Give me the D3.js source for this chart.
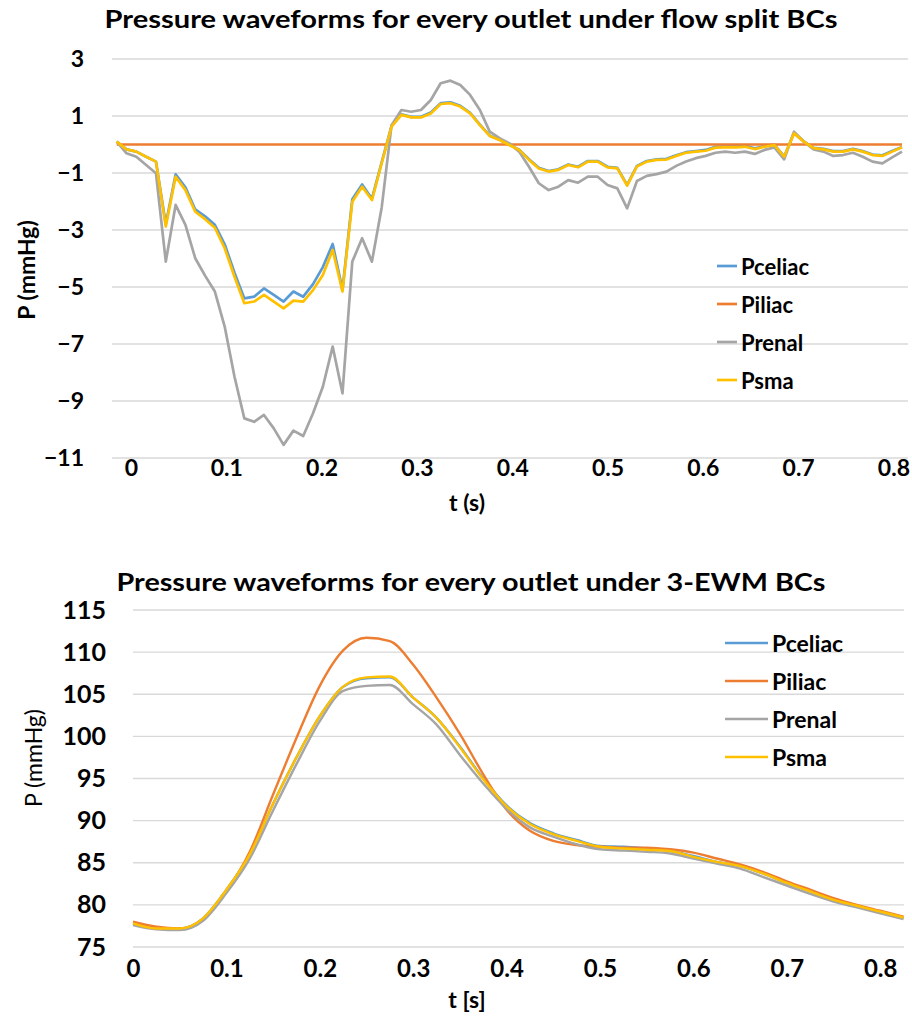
<!DOCTYPE html>
<html>
<head>
<meta charset="utf-8">
<script src="https://cdn.jsdelivr.net/npm/d3@7"></script>
<style>
  html, body { margin: 0; padding: 0; background: #fff; }
  svg { display: block; }
  text { font-family: Lato, "Open Sans", sans-serif; fill: #000; }
</style>
</head>
<body>
<svg id="chart" width="912" height="1021"></svg>
<script>
// ---------- Series names and colours ----------
const seriesNames = ["Pceliac", "Piliac", "Prenal", "Psma"];
const seriesColors = ["#5B9BD5", "#ED7D31", "#A5A5A5", "#FFC000"];

// ---------- Flow split BCs: outlet pressure (mmHg) vs time (s) ----------
const splitTime = [
  -0.0150, -0.0047, 0.0056, 0.0159, 0.0262, 0.0365, 0.0468, 0.0571, 0.0674, 0.0777,
  0.0880, 0.0983, 0.1086, 0.1189, 0.1292, 0.1395, 0.1498, 0.1601, 0.1704, 0.1807,
  0.1910, 0.2013, 0.2116, 0.2219, 0.2322, 0.2425, 0.2528, 0.2631, 0.2734, 0.2837,
  0.2940, 0.3043, 0.3146, 0.3249, 0.3352, 0.3455, 0.3558, 0.3661, 0.3764, 0.3867,
  0.3970, 0.4073, 0.4176, 0.4279, 0.4382, 0.4485, 0.4588, 0.4691, 0.4794, 0.4897,
  0.5000, 0.5103, 0.5206, 0.5309, 0.5412, 0.5515, 0.5618, 0.5721, 0.5824, 0.5927,
  0.6030, 0.6133, 0.6236, 0.6339, 0.6442, 0.6545, 0.6648, 0.6751, 0.6854, 0.6957,
  0.7060, 0.7163, 0.7266, 0.7369, 0.7472, 0.7575, 0.7678, 0.7781, 0.7884, 0.7987,
  0.8090
];
const splitCeliac = [
  0.10, -0.17, -0.25, -0.43, -0.60, -2.80, -1.05, -1.50, -2.28, -2.52,
  -2.82, -3.50, -4.50, -5.40, -5.34, -5.05, -5.28, -5.51, -5.16, -5.34,
  -4.90, -4.30, -3.49, -5.10, -1.92, -1.40, -1.90, -0.62, 0.65, 1.06,
  0.97, 0.97, 1.12, 1.45, 1.48, 1.36, 1.11, 0.70, 0.31, 0.17,
  -0.01, -0.18, -0.52, -0.82, -0.93, -0.87, -0.70, -0.78, -0.58, -0.58,
  -0.78, -0.82, -1.42, -0.75, -0.58, -0.52, -0.50, -0.38, -0.27, -0.23,
  -0.19, -0.08, -0.07, -0.07, -0.05, -0.13, -0.06, -0.01, -0.42, 0.40,
  0.11, -0.12, -0.15, -0.23, -0.23, -0.15, -0.23, -0.35, -0.38, -0.23,
  -0.09
];
const splitIliac = [
  0, 0, 0, 0, 0, 0, 0, 0, 0, 0,
  0, 0, 0, 0, 0, 0, 0, 0, 0, 0,
  0, 0, 0, 0, 0, 0, 0, 0, 0, 0,
  0, 0, 0, 0, 0, 0, 0, 0, 0, 0,
  0, 0, 0, 0, 0, 0, 0, 0, 0, 0,
  0, 0, 0, 0, 0, 0, 0, 0, 0, 0,
  0, 0, 0, 0, 0, 0, 0, 0, 0, 0,
  0, 0, 0, 0, 0, 0, 0, 0, 0, 0,
  0
];
const splitRenal = [
  0.10, -0.31, -0.43, -0.72, -1.01, -4.11, -2.12, -2.82, -3.99, -4.60,
  -5.16, -6.39, -8.15, -9.61, -9.73, -9.49, -9.96, -10.54, -10.04, -10.23,
  -9.43, -8.50, -7.09, -8.73, -4.11, -3.29, -4.11, -2.20, 0.68, 1.21,
  1.15, 1.21, 1.56, 2.15, 2.24, 2.09, 1.74, 1.21, 0.45, 0.22,
  0.04, -0.25, -0.78, -1.36, -1.60, -1.48, -1.25, -1.34, -1.13, -1.13,
  -1.42, -1.54, -2.24, -1.28, -1.10, -1.04, -0.95, -0.75, -0.60, -0.48,
  -0.40, -0.29, -0.25, -0.29, -0.25, -0.33, -0.19, -0.10, -0.52, 0.45,
  0.10, -0.17, -0.25, -0.40, -0.37, -0.29, -0.43, -0.60, -0.66, -0.45,
  -0.25
];
const splitSma = [
  0.10, -0.17, -0.25, -0.43, -0.60, -2.88, -1.13, -1.60, -2.36, -2.62,
  -2.92, -3.64, -4.64, -5.57, -5.51, -5.28, -5.51, -5.75, -5.48, -5.51,
  -5.11, -4.58, -3.70, -5.16, -2.01, -1.48, -1.95, -0.65, 0.63, 1.04,
  0.95, 0.95, 1.09, 1.42, 1.45, 1.33, 1.09, 0.68, 0.30, 0.16,
  -0.02, -0.19, -0.54, -0.84, -0.95, -0.89, -0.72, -0.80, -0.60, -0.60,
  -0.80, -0.84, -1.44, -0.77, -0.60, -0.54, -0.53, -0.40, -0.29, -0.25,
  -0.22, -0.11, -0.10, -0.10, -0.08, -0.16, -0.08, -0.02, -0.43, 0.39,
  0.10, -0.13, -0.17, -0.25, -0.25, -0.17, -0.25, -0.37, -0.40, -0.25,
  -0.10
];
const splitYTicks = [3, 1, -1, -3, -5, -7, -9, -11];
const splitXTicks = [0, 0.1, 0.2, 0.3, 0.4, 0.5, 0.6, 0.7, 0.8];

// ---------- 3-EWM BCs: outlet pressure (mmHg) vs time (s) ----------
const ewmTime = [
  0, 0.025, 0.05, 0.075, 0.1, 0.125, 0.15, 0.175, 0.2, 0.225,
  0.25, 0.275, 0.3, 0.325, 0.35, 0.375, 0.4, 0.425, 0.45, 0.475,
  0.5, 0.525, 0.55, 0.575, 0.6, 0.625, 0.65, 0.675, 0.7, 0.725,
  0.75, 0.775, 0.8, 0.825
];
const ewmCeliac = [
  77.8, 77.2, 77.2, 78.4, 81.8, 86.0, 92.0, 97.5, 102.4, 105.9,
  106.9, 107.0, 104.6, 102.2, 98.8, 95.0, 91.8, 89.7, 88.5, 87.7,
  87.0, 86.9, 86.7, 86.4, 85.8, 85.1, 84.6, 83.7, 82.6, 81.6,
  80.6, 79.9, 79.2, 78.5
];
const ewmIliac = [
  78.0, 77.4, 77.2, 78.3, 81.6, 86.3, 93.1, 99.8, 106.0, 110.2,
  111.7, 111.3, 108.5, 104.6, 100.3, 95.5, 91.3, 88.8, 87.6, 87.1,
  86.9, 86.8, 86.8, 86.6, 86.2, 85.5, 84.8, 83.9, 82.8, 81.8,
  80.8, 80.0, 79.3, 78.6
];
const ewmRenal = [
  77.6, 77.1, 77.0, 78.1, 81.4, 85.5, 91.2, 96.7, 101.8, 105.4,
  106.0, 106.1, 103.8, 101.4, 97.8, 94.4, 91.4, 89.2, 88.1, 87.2,
  86.6, 86.45, 86.3, 86.1, 85.5, 84.9, 84.3, 83.3, 82.3, 81.3,
  80.4, 79.7, 79.0, 78.3
];
const ewmSma = [
  77.8, 77.2, 77.2, 78.4, 81.8, 86.0, 92.0, 97.5, 102.4, 105.9,
  107.0, 107.1, 104.6, 102.2, 98.7, 94.9, 91.7, 89.6, 88.4, 87.6,
  86.9, 86.7, 86.55, 86.4, 85.7, 85.1, 84.6, 83.7, 82.6, 81.6,
  80.6, 79.9, 79.2, 78.5
];
const ewmYTicks = [115, 110, 105, 100, 95, 90, 85, 80, 75];
const ewmXTicks = [0, 0.1, 0.2, 0.3, 0.4, 0.5, 0.6, 0.7, 0.8];

const svg = d3.select("#chart");

function drawPanel(cfg) {
  const g = svg.append("g");
  const x = d3.scaleLinear().domain(cfg.xDomain).range(cfg.xRange);
  const y = d3.scaleLinear().domain(cfg.yDomain).range(cfg.yRange);

  // horizontal gridlines
  g.append("g").selectAll("line").data(cfg.yTicks).join("line")
    .attr("x1", cfg.xRange[0]).attr("x2", cfg.xRange[1])
    .attr("y1", d => y(d)).attr("y2", d => y(d))
    .attr("stroke", "#d9d9d9").attr("stroke-width", 1.3);

  // y-axis tick labels
  const yAxis = d3.axisLeft(y).tickValues(cfg.yTicks).tickSize(0).tickPadding(0)
    .tickFormat(d3.format("d"));
  g.append("g").attr("transform", `translate(${cfg.yLabelRight},0)`).call(yAxis)
    .call(s => s.select(".domain").remove())
    .selectAll("text")
    .attr("font-family", "Lato, sans-serif")
    .attr("font-size", cfg.yTickSize).attr("font-weight", "bold").attr("fill", "#000");

  // x-axis tick labels
  const xAxis = d3.axisBottom(x).tickValues(cfg.xTicks).tickSize(0).tickPadding(0)
    .tickFormat(d => d === 0 ? "0" : d3.format(".1f")(d));
  g.append("g").attr("transform", `translate(0,${cfg.xLabelTop})`).call(xAxis)
    .call(s => s.select(".domain").remove())
    .selectAll("text")
    .attr("font-family", "Lato, sans-serif")
    .attr("font-size", cfg.xTickSize).attr("font-weight", "bold").attr("fill", "#000");

  // series lines
  const line = d3.line().x(d => x(d[0])).y(d => y(d[1])).curve(cfg.curve);
  cfg.series.forEach((vals, k) => {
    g.append("path")
      .datum(cfg.time.map((t, i) => [t, vals[i]]))
      .attr("fill", "none")
      .attr("stroke", seriesColors[k])
      .attr("stroke-width", cfg.lineWidth)
      .attr("stroke-linejoin", "round")
      .attr("d", line);
  });

  // chart title, stretched across the same span as the plot heading
  g.append("text").attr("x", cfg.titleX).attr("y", cfg.titleY)
    .attr("text-anchor", "middle").attr("font-weight", "bold")
    .attr("font-size", cfg.titleSize)
    .attr("textLength", cfg.titleWidth).attr("lengthAdjust", "spacingAndGlyphs")
    .text(cfg.title);

  // axis titles
  g.append("text").attr("x", cfg.xTitleX).attr("y", cfg.xTitleY)
    .attr("text-anchor", "middle").attr("font-weight", "bold")
    .attr("font-size", cfg.axisTitleSize).text(cfg.xTitle);
  g.append("text")
    .attr("transform", `translate(${cfg.yTitleX},${cfg.yTitleY}) rotate(-90)`)
    .attr("text-anchor", "middle").attr("dominant-baseline", "central")
    .attr("font-weight", cfg.yTitleWeight)
    .attr("font-size", cfg.axisTitleSize).text("P (mmHg)");

  // legend
  const lg = g.append("g");
  seriesNames.forEach((name, k) => {
    const cy = cfg.legendY + k * cfg.legendStep;
    lg.append("line")
      .attr("x1", cfg.legendX).attr("x2", cfg.legendX + cfg.legendLine)
      .attr("y1", cy).attr("y2", cy)
      .attr("stroke", seriesColors[k]).attr("stroke-width", cfg.lineWidth);
    lg.append("text")
      .attr("x", cfg.legendX + cfg.legendLine + 4).attr("y", cy)
      .attr("dominant-baseline", "central").attr("font-weight", "bold")
      .attr("font-size", cfg.legendSize).text(name);
  });
}

drawPanel({
  title: "Pressure waveforms for every outlet under flow split BCs",
  titleX: 471, titleY: 28, titleSize: 25, titleWidth: 733,
  xTitle: "t (s)", xTitleX: 467, xTitleY: 511,
  yTitleX: 26, yTitleY: 270, yTitleWeight: "bold", axisTitleSize: 23,
  time: splitTime,
  series: [splitCeliac, splitIliac, splitRenal, splitSma],
  xDomain: [-0.01994, 0.8153], xRange: [112, 908],
  yDomain: [-11, 3], yRange: [458, 59],
  yTicks: splitYTicks, xTicks: splitXTicks,
  yLabelRight: 84, xLabelTop: 460, yTickSize: 23, xTickSize: 23,
  curve: d3.curveLinear, lineWidth: 2.7,
  legendX: 717, legendY: 266, legendStep: 38, legendLine: 20, legendSize: 22
});

drawPanel({
  title: "Pressure waveforms for every outlet under 3-EWM BCs",
  titleX: 471, titleY: 591, titleSize: 25, titleWidth: 709,
  xTitle: "t [s]", xTitleX: 467, xTitleY: 1008,
  yTitleX: 33, yTitleY: 758, yTitleWeight: "normal", axisTitleSize: 23,
  time: ewmTime,
  series: [ewmCeliac, ewmIliac, ewmRenal, ewmSma],
  xDomain: [0, 0.8255], xRange: [133, 904],
  yDomain: [75, 115], yRange: [947, 610],
  yTicks: ewmYTicks, xTicks: ewmXTicks,
  yLabelRight: 106, xLabelTop: 960, yTickSize: 25, xTickSize: 24,
  curve: d3.curveMonotoneX, lineWidth: 2.4,
  legendX: 725, legendY: 643, legendStep: 38, legendLine: 43, legendSize: 23
});
</script>
</body>
</html>
